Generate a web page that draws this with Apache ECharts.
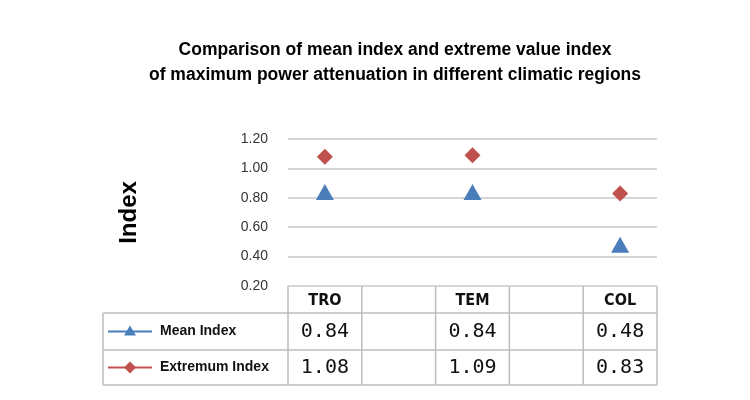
<!DOCTYPE html>
<html><head><meta charset="utf-8">
<script src="https://cdn.jsdelivr.net/npm/echarts@6/dist/echarts.min.js"></script>
<style>html,body{margin:0;padding:0;background:#fff}#c{width:750px;height:400px}</style>
</head><body><div id="c"></div>
<script>
var categories = ['TRO', '', 'TEM', '', 'COL'];
var meanIndex = [0.84, null, 0.84, null, 0.48];
var extremumIndex = [1.08, null, 1.09, null, 0.83];
var yTicks = [0.2, 0.4, 0.6, 0.8, 1.0, 1.2];

var chart = echarts.init(document.getElementById('c'));
chart.setOption({
  animation: false,
  title: {
    text: 'Comparison of mean index and extreme value index\nof maximum power attenuation in different climatic regions',
    left: 390, top: 33, textAlign: 'center',
    textStyle: {fontFamily: 'Arial, Liberation Sans', fontSize: 17.5, fontWeight: 'bold', color: '#000', lineHeight: 25}
  },
  grid: {left: 288, right: 93, top: 139, bottom: 114},
  xAxis: {type: 'category', data: categories, boundaryGap: true, show: false},
  yAxis: {
    type: 'value', min: yTicks[0], max: yTicks[yTicks.length - 1], interval: 0.2,
    name: 'Index', nameLocation: 'middle', nameGap: 147, nameRotate: 90,
    nameTextStyle: {fontFamily: 'Arial, Liberation Sans', fontSize: 24, fontWeight: 'bold', color: '#000'},
    axisLine: {show: false}, axisTick: {show: false},
    axisLabel: {formatter: function (v) { return v.toFixed(2); }, fontSize: 14, color: '#333', margin: 20, fontFamily: 'Arial, Liberation Sans'},
    splitLine: {lineStyle: {color: '#c8c8c8', width: 1.5}}
  },
  series: [
    {name: 'Mean Index', type: 'scatter', data: meanIndex, symbol: 'triangle', symbolSize: [18, 16], itemStyle: {color: '#4a7ebb', opacity: 1}},
    {name: 'Extremum Index', type: 'scatter', data: extremumIndex, symbol: 'diamond', symbolSize: 16, itemStyle: {color: '#c0504d', opacity: 1}}
  ]
});

var els = [];
var lc = '#bcbcbc';
function ln(x1, y1, x2, y2) { els.push({type: 'line', shape: {x1: x1, y1: y1, x2: x2, y2: y2}, style: {stroke: lc, lineWidth: 1.5}}); }
function px(i) { return chart.convertToPixel({xAxisIndex: 0}, i); }
var x0 = 288, x1 = 657, tl = 103;
var yTop = chart.convertToPixel({yAxisIndex: 0}, yTicks[0]);
var r1 = 313, r2 = 350, r3 = 385;
ln(tl, r1, x1, r1); ln(tl, r2, x1, r2); ln(tl, r3, x1, r3);
ln(tl, r1, tl, r3);
var step = (x1 - x0) / categories.length;
for (var k = 0; k <= categories.length; k++) ln(x0 + k * step, yTop, x0 + k * step, r3);
var numFont = '20px "DejaVu Sans Mono", monospace';
categories.forEach(function (c, i) {
  if (!c) return;
  var cx = px(i);
  els.push({type: 'text', style: {text: c, x: cx, y: (yTop + r1) / 2 + 1, align: 'center', verticalAlign: 'middle', font: 'bold 16px "DejaVu Sans Condensed", sans-serif', fill: '#111'}});
  els.push({type: 'text', style: {text: meanIndex[i].toFixed(2), x: cx, y: (r1 + r2) / 2, align: 'center', verticalAlign: 'middle', font: numFont, fill: '#111'}});
  els.push({type: 'text', style: {text: extremumIndex[i].toFixed(2), x: cx, y: (r2 + r3) / 2, align: 'center', verticalAlign: 'middle', font: numFont, fill: '#111'}});
});
function legendRow(y, color, sym, label) {
  els.push({type: 'line', shape: {x1: 108, y1: y, x2: 152, y2: y}, style: {stroke: color, lineWidth: 2}});
  if (sym === 'tri') els.push({type: 'polygon', shape: {points: [[130, y - 6], [124, y + 4], [136, y + 4]]}, style: {fill: color}});
  else els.push({type: 'polygon', shape: {points: [[130, y - 6], [136, y], [130, y + 6], [124, y]]}, style: {fill: color}});
  els.push({type: 'text', style: {text: label, x: 160, y: y, verticalAlign: 'middle', font: 'bold 14px Arial, "Liberation Sans", sans-serif', fill: '#111'}});
}
legendRow((r1 + r2) / 2, '#4a7ebb', 'tri', 'Mean Index');
legendRow((r2 + r3) / 2, '#c0504d', 'dia', 'Extremum Index');
chart.setOption({graphic: els});
</script></body></html>
